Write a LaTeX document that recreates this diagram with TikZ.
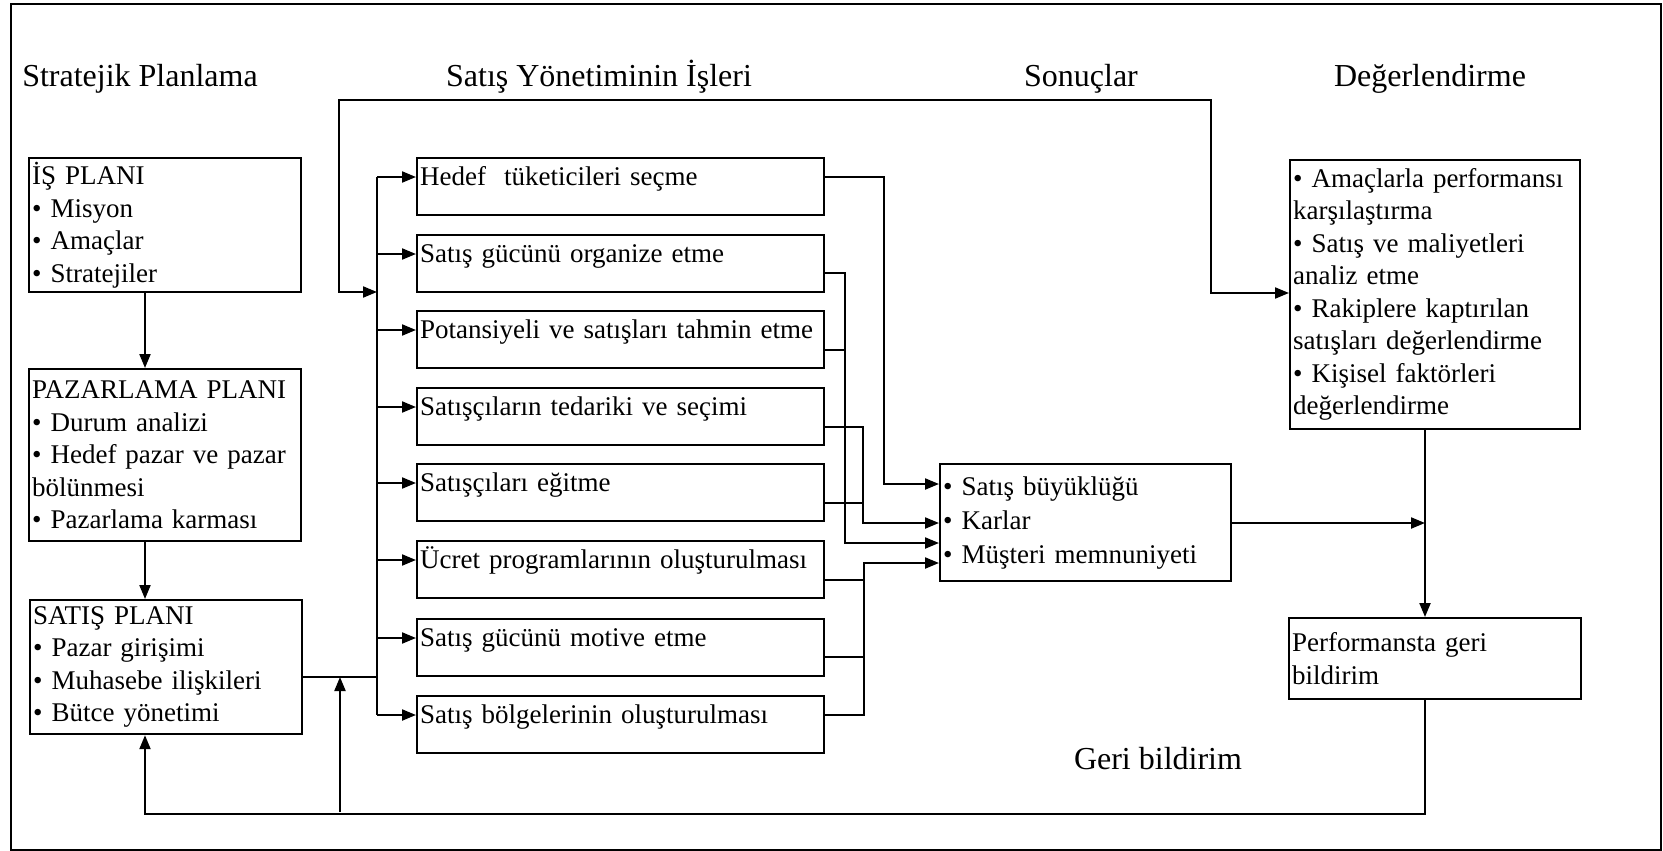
\documentclass[tikz,border=0pt]{standalone}
\usepackage{fontspec}
\setmainfont{Liberation Serif}
\usetikzlibrary{arrows.meta,calc}

\begin{document}
\begin{tikzpicture}[x=1pt,y=-1pt,
  boxline/.style={draw,line width=2.2pt},
  box/.style={boxline,inner xsep=3pt,inner ysep=2pt,align=left,anchor=north west,
    font=\fontsize{27}{32.5}\selectfont},
  sidebox/.style={box,text width=266pt},
  taskbox/.style={box,text width=401pt,text height=25pt,text depth=28pt},
  head/.style={anchor=base,inner sep=0pt,font=\fontsize{32}{38}\selectfont},
  line/.style={line width=2.1pt},
  tip/.tip={Triangle[length=14pt,width=11pt]},
  arr/.style={line,-tip},
  arrs/.style={line,tip-tip}
]
\useasboundingbox (0,0) rectangle (1663,851);

% outer frame
\node[draw,line width=2.4pt,anchor=north west,inner sep=0pt,
  minimum width=1650pt,minimum height=846pt] (frame) at (10,3) {};

% column headings
\node[head] (h1) at (140,86) {Stratejik Planlama};
\node[head] (h2) at (599,86) {Satış Yönetiminin İşleri};
\node[head] (h3) at (1081,86) {Sonuçlar};
\node[head] (h4) at (1430,86) {Değerlendirme};
\node[head] (fblabel) at (1158,769) {Geri bildirim};

% strategic planning column
\node[sidebox,minimum height=134pt] (is) at (28,157)
  {İŞ PLANI\\• Misyon\\• Amaçlar\\• Stratejiler};
\node[sidebox,minimum height=172pt] (paz) at (28,368)
  {\mbox{PAZARLAMA PLANI}\\• Durum analizi\\\mbox{• Hedef pazar ve pazar}\\bölünmesi\\• Pazarlama karması};
\node[sidebox,minimum height=134pt] (sat) at (29,599)
  {SATIŞ PLANI\\• Pazar girişimi\\• Muhasebe ilişkileri\\• Bütce yönetimi};

% sales management tasks
\node[taskbox] (m1) at (416,157) {\mbox{Hedef~ tüketicileri seçme}};
\node[taskbox] (m2) at (416,234) {\mbox{Satış gücünü organize etme}};
\node[taskbox] (m3) at (416,310) {\mbox{Potansiyeli ve satışları tahmin etme}};
\node[taskbox] (m4) at (416,387) {\mbox{Satışçıların tedariki ve seçimi}};
\node[taskbox] (m5) at (416,463) {\mbox{Satışçıları eğitme}};
\node[taskbox] (m6) at (416,540) {\mbox{Ücret programlarının oluşturulması}};
\node[taskbox] (m7) at (416,618) {\mbox{Satış gücünü motive etme}};
\node[taskbox] (m8) at (416,695) {\mbox{Satış bölgelerinin oluşturulması}};

% results
\node[box,text width=285pt,minimum height=117pt,font=\fontsize{27}{34}\selectfont] (son) at (939,463)
  {• Satış büyüklüğü\\• Karlar\\• Müşteri memnuniyeti};

% evaluation
\node[box,text width=284pt,minimum height=269pt] (deg) at (1289,159)
  {\mbox{• Amaçlarla performansı}\\karşılaştırma\\• Satış ve maliyetleri\\analiz etme\\• Rakiplere kaptırılan\\\mbox{satışları değerlendirme}\\• Kişisel faktörleri\\değerlendirme};
\node[box,text width=286pt,minimum height=81pt] (perf) at (1288,617)
  {Performansta geri\\bildirim};

% helper coordinates
\coordinate (lx) at ($(is.south west)+(117,0)$);
\coordinate (busT) at (377,177);
\coordinate (busB) at (377,715);
\coordinate (busJ) at (377,677);
\coordinate (busL) at (377,292);
\foreach \k in {1,...,8}{
  \coordinate (m\k i) at ($(m\k.north west)+(0,20)$);
}
\coordinate (o1) at ($(m1.north east)+(0,20)$);
\coordinate (o2) at ($(m2.north east)+(0,39)$);
\coordinate (o3) at ($(m3.north east)+(0,40)$);
\coordinate (o4) at ($(m4.north east)+(0,40)$);
\coordinate (o5) at ($(m5.north east)+(0,40)$);
\coordinate (o6) at ($(m6.north east)+(0,40)$);
\coordinate (o7) at ($(m7.north east)+(0,39)$);
\coordinate (o8) at ($(m8.north east)+(0,20)$);
\coordinate (s1) at ($(son.north west)+(0,21)$);
\coordinate (s2) at ($(son.north west)+(0,60)$);
\coordinate (s3) at ($(son.north west)+(0,80)$);
\coordinate (s4) at ($(son.north west)+(0,100)$);
\coordinate (dv) at ($(deg.south west)+(136,0)$);
\coordinate (dg) at ($(deg.north west)+(0,134)$);
\coordinate (lt) at (339,100);
\coordinate (rt) at (1211,100);
\coordinate (fb) at ($(dv |- perf.south)+(0,114)$);
\coordinate (br) at (340,812);

% planning chain
\draw[arr] (lx |- is.south) -- (lx |- paz.north);
\draw[arr] (lx |- paz.south) -- (lx |- sat.north);

% distribution bus into the tasks
\draw[line] (busT) -- (busB);
\draw[line] (sat.east |- busJ) -- (busJ);
\foreach \k in {1,...,8}{
  \draw[arr] (busT |- m\k i) -- (m\k i);
}

% tasks into results
\draw[arr] (o1) -- ++(59,0) |- (s1);
\draw[arr] (o2) -- ++(20,0) |- (s3);
\draw[line] (o3) -- ++(20,0);
\draw[arr] (o4) -- ++(38,0) |- (s2);
\draw[line] (o5) -- ++(38,0);
\draw[arr] (o8) -- ++(39,0) |- (s4);
\draw[line] (o6) -- ++(39,0);
\draw[line] (o7) -- ++(39,0);

% results and evaluation
\draw[arr] (son.east |- s2) -- (dv |- s2);
\draw[arr] (dv) -- (dv |- perf.north);
\draw[arrs] (busL) -- (lt |- busL) -- (lt) -- (rt) -- (rt |- dg) -- (dg);

% feedback loop
\draw[arr] (dv |- perf.south) -- (fb) -| (lx |- sat.south);
\draw[arr] (br) -- (br |- busJ);
\end{tikzpicture}
\end{document}
